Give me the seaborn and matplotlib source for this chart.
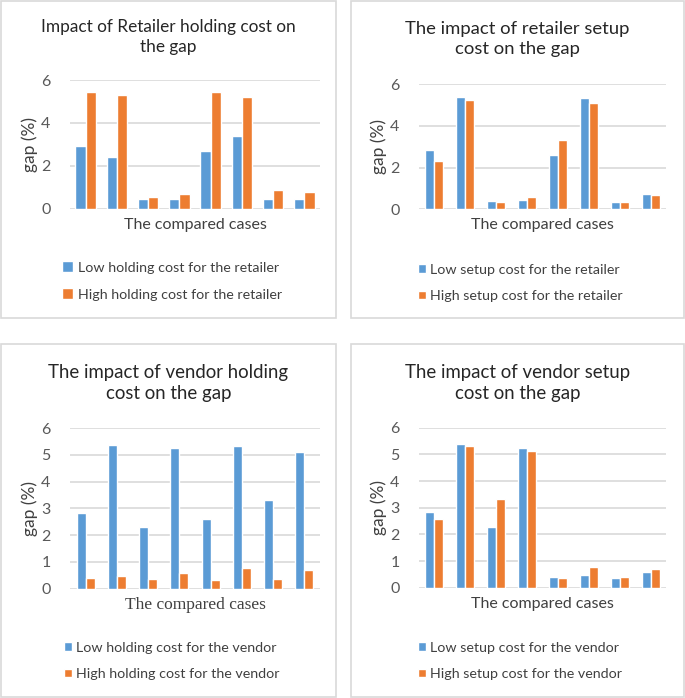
import matplotlib
matplotlib.use("Agg")
import matplotlib.pyplot as plt
from matplotlib.patches import Rectangle
import seaborn as sns
import pandas as pd

sns.set_style("white")
plt.rcParams['font.family'] = ['Lato', 'DejaVu Sans']

cases = ["C1", "C2", "C3", "C4", "C5", "C6", "C7", "C8"]

# retailer holding cost
rh_low = [2.92, 2.39, 0.47, 0.43, 2.69, 3.41, 0.43, 0.47]
rh_high = [5.46, 5.32, 0.56, 0.67, 5.43, 5.19, 0.86, 0.78]
# retailer setup cost
rs_low = [2.83, 5.38, 0.38, 0.46, 2.59, 5.33, 0.34, 0.75]
rs_high = [2.30, 5.25, 0.35, 0.58, 3.33, 5.12, 0.37, 0.69]
# vendor holding cost
vh_low = [2.82, 5.38, 2.29, 5.24, 2.59, 5.34, 3.32, 5.12]
vh_high = [0.39, 0.47, 0.36, 0.57, 0.34, 0.76, 0.36, 0.68]
# vendor setup cost
vs_low = [2.83, 5.38, 2.29, 5.23, 0.40, 0.48, 0.35, 0.58]
vs_high = [2.59, 5.33, 3.33, 5.11, 0.35, 0.76, 0.39, 0.70]

titles = ["Impact of Retailer holding cost on\nthe gap",
          "The impact of retailer setup\ncost on the gap",
          "The impact of vendor holding\ncost on the gap",
          "The impact of vendor setup\ncost on the gap"]
legend_labels = [
    ("Low holding cost for the retailer", "High holding cost for the retailer"),
    ("Low setup cost for the retailer", "High setup cost for the retailer"),
    ("Low holding cost for the vendor", "High holding cost for the vendor"),
    ("Low setup cost for the vendor", "High setup cost for the vendor"),
]
series = [(rh_low, rh_high), (rs_low, rs_high), (vh_low, vh_high), (vs_low, vs_high)]
yticks = [[0, 2, 4, 6], [0, 2, 4, 6], [0, 1, 2, 3, 4, 5, 6], [0, 1, 2, 3, 4, 5, 6]]

blue = "#5B9BD5"
orange = "#ED7D31"
grid = "#D9D9D9"
txt = "#404040"

W, H = 685, 698
fig = plt.figure(figsize=(W / 100, H / 100), dpi=100)

def fx(x):
    return x / W

def fy(y):
    return 1 - y / H

# panel boxes (pixels: x0, y0, x1, y1)
boxes = [(1, 1, 336, 318), (351, 1, 684, 318), (1, 344, 336, 697), (351, 344, 684, 697)]
# plot areas (pixels: x0, ytop, x1, ybottom)
areas = [(70, 80, 320, 208.7), (419, 84.3, 666, 209.3), (70, 428, 320, 588.7), (419, 427.7, 666, 587.7)]
bar_w = [0.66, 0.58, 0.58, 0.58]
title_y = [37, 39, 383, 383]
title_size = [12.4, 13.3, 13.4, 13.4]
leg_pos = [(62, 281), (418, 283), (64, 661), (418, 661)]
marker = [0.8, 0.55, 0.55, 0.55]

for b in boxes:
    fig.patches.append(Rectangle((fx(b[0]), fy(b[3])), fx(b[2] - b[0]), (b[3] - b[1]) / H,
                                 transform=fig.transFigure, facecolor="white",
                                 edgecolor=grid, linewidth=1.2, zorder=-5))

for i in range(4):
    x0, yt, x1, yb = areas[i]
    ax = fig.add_axes([fx(x0), fy(yb), fx(x1 - x0), (yb - yt) / H])
    ax.patch.set_alpha(0)
    low, high = series[i]
    df = pd.DataFrame({
        "case": cases * 2,
        "gap": low + high,
        "series": [legend_labels[i][0]] * 8 + [legend_labels[i][1]] * 8,
    })
    sns.barplot(data=df, x="case", y="gap", hue="series", palette=[blue, orange],
                width=bar_w[i], saturation=1, ax=ax, zorder=3)
    ax.set_ylim(0, 6)
    ax.set_yticks(yticks[i])
    ax.set_xticks(range(8))
    ax.set_xticklabels([])
    ax.set_xlim(-0.5, 7.5)
    ax.tick_params(axis="y", length=0, labelsize=11.5, colors="#595959", pad=14)
    ax.tick_params(axis="x", length=0, pad=0)
    for s in ax.spines.values():
        s.set_visible(False)
    ax.yaxis.grid(True, color=grid, linewidth=1.2, zorder=0)
    ax.set_axisbelow(True)
    ax.set_ylabel("gap (%)", fontsize=12.5, color=txt, labelpad=2)
    if i == 2:
        ax.set_xlabel("The compared cases", fontsize=12.5, color=txt, labelpad=6,
                      family=["Liberation Serif"])
    else:
        ax.set_xlabel("The compared cases", fontsize=11.5, color=txt, labelpad=6.5)
    bx = boxes[i]
    fig.text(fx((bx[0] + bx[2]) / 2), fy(title_y[i]), titles[i], ha="center", va="center",
             fontsize=title_size[i], color="#262626", linespacing=1.3)
    handles, labels = ax.get_legend_handles_labels()
    ax.get_legend().remove()
    fig.legend(handles, labels, loc="center left",
               bbox_to_anchor=(fx(leg_pos[i][0]), fy(leg_pos[i][1])),
               frameon=False, fontsize=10.3, labelcolor=txt, handlelength=marker[i],
               handleheight=marker[i], handletextpad=0.3, labelspacing=1.0,
               borderpad=0, borderaxespad=0)

fig.savefig("out.png", dpi=100)
